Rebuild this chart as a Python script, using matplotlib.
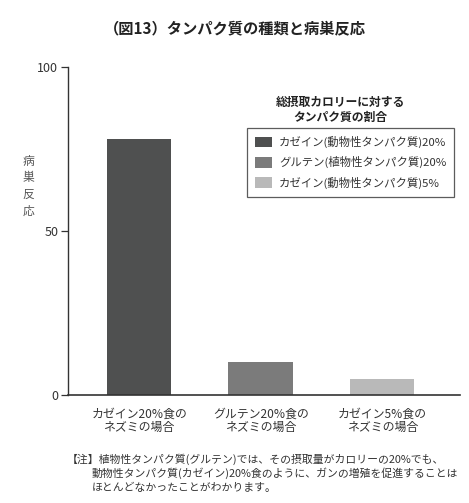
import numpy as np
import matplotlib.pyplot as plt
from matplotlib.patches import Patch

plt.rcParams['font.family'] = ['Noto Sans CJK JP', 'DejaVu Sans']

# data
categories = ['カゼイン20%食の\nネズミの場合', 'グルテン20%食の\nネズミの場合', 'カゼイン5%食の\nネズミの場合']
values = [78, 10, 5]
legend_labels = ['カゼイン(動物性タンパク質)20%', 'グルテン(植物性タンパク質)20%', 'カゼイン(動物性タンパク質)5%']
colors = ['#4f5050', '#7b7b7b', '#b9b9b9']
yticks = [0, 50, 100]

fig = plt.figure(figsize=(4.69, 5.03), dpi=100)
ax = fig.add_axes([0.145, 0.2147, 0.836, 0.652])

x = np.arange(len(categories))
ax.bar(x, values, width=0.53, color=colors)
ax.set_xlim(-0.585, 2.64)
ax.set_ylim(0, 100)
ax.set_yticks(yticks)
ax.set_yticklabels([str(v) for v in yticks], fontsize=9, color='#333333')
ax.set_xticks(x)
ax.set_xticklabels(categories, fontsize=8.6, color='#333333', linespacing=1.05)
ax.tick_params(axis='x', length=0, pad=9)
ax.tick_params(axis='y', length=5, width=0.9, direction='out', pad=2, colors='#333333')
for s in ['top', 'right']:
    ax.spines[s].set_visible(False)
ax.spines['left'].set_linewidth(1.0)
ax.spines['bottom'].set_linewidth(1.2)
ax.spines['left'].set_color('#333333')
ax.spines['bottom'].set_color('#333333')

# vertical y label
fig.text(0.06, 0.63, '病\n巣\n反\n応', fontsize=8.5, color='#555555',
         ha='center', va='center', linespacing=1.35)

# title
fig.text(0.5, 0.944, '（図13）タンパク質の種類と病巣反応', fontsize=11, fontweight='bold',
         ha='center', va='center', color='#222222')

# legend title
fig.text(0.725, 0.781, '総摂取カロリーに対する\nタンパク質の割合', fontsize=8.5, fontweight='bold',
         ha='center', va='center', color='#222222', linespacing=1.2)

handles = [Patch(facecolor=c, edgecolor='none') for c in colors]
leg = ax.legend(handles, legend_labels, loc='upper right', bbox_to_anchor=(1.0, 0.832),
                fontsize=8.2, frameon=True, fancybox=False, handlelength=1.5, handleheight=1.1,
                handletextpad=0.6, labelspacing=0.72, borderpad=0.7, labelcolor='#333333')
leg.get_frame().set_edgecolor('#333333')
leg.get_frame().set_linewidth(0.9)

# note
fig.text(0.142, 0.0875, '【注】植物性タンパク質(グルテン)では、その摂取量がカロリーの20%でも、',
         fontsize=7.8, color='#333333', va='center')
fig.text(0.195, 0.0596, '動物性タンパク質(カゼイン)20%食のように、ガンの増殖を促進することは',
         fontsize=7.8, color='#333333', va='center')
fig.text(0.195, 0.0298, 'ほとんどなかったことがわかります。',
         fontsize=7.8, color='#333333', va='center')

fig.savefig('out.png', dpi=100)
